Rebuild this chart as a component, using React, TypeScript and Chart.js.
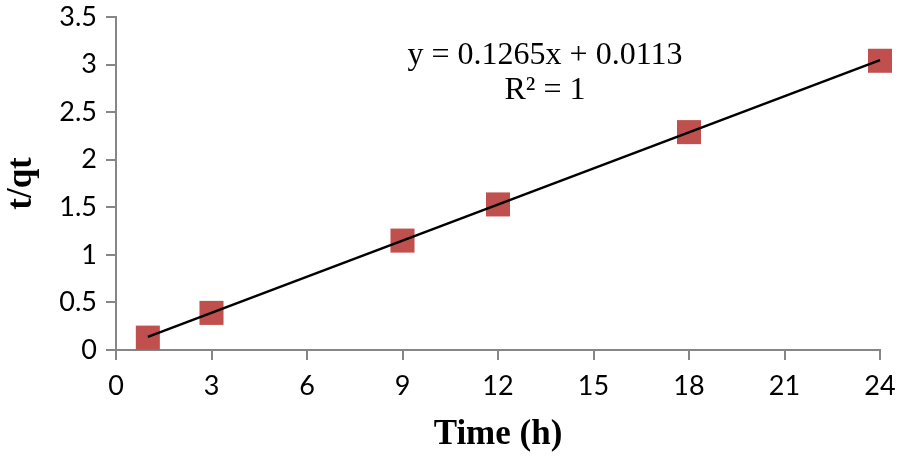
import React, { useEffect, useRef } from "react";
import { Chart, registerables } from "chart.js";

Chart.register(...registerables);

const timeH = [1, 3, 9, 12, 18, 24];
const tOverQt = [0.13, 0.39, 1.15, 1.53, 2.29, 3.04];
const trendX = [1, 24];
const trendY = [0.138, 3.047];
const equationLines = ["y = 0.1265x + 0.0113", "R² = 1"];

const AXIS_GRAY = "#868686";
const TICK_FONT = "Lato, 'Open Sans', sans-serif";
const SERIF = "'Liberation Serif', 'Times New Roman', serif";

const equationPlugin = {
  id: "equation",
  afterDatasetsDraw(chart: any) {
    const { ctx, chartArea } = chart;
    ctx.save();
    ctx.fillStyle = "#000";
    ctx.font = `32px ${SERIF}`;
    ctx.textAlign = "center";
    ctx.textBaseline = "middle";
    const cx = chartArea.left + (chartArea.right - chartArea.left) * 0.5615;
    ctx.fillText(equationLines[0], cx, chartArea.top + 39);
    ctx.fillText(equationLines[1], cx, chartArea.top + 74);
    ctx.restore();
  },
};

export default function App() {
  const ref = useRef<HTMLCanvasElement | null>(null);
  useEffect(() => {
    document.body.style.margin = "0";
    const canvas = ref.current!;
    const chart = new Chart(canvas, {
      type: "scatter",
      data: {
        datasets: [
          {
            type: "line",
            data: trendX.map((x, i) => ({ x, y: trendY[i] })),
            borderColor: "#000",
            borderWidth: 2.5,
            pointRadius: 0,
            fill: false,
            clip: false,
          },
          {
            data: timeH.map((x, i) => ({ x, y: tOverQt[i] })),
            backgroundColor: "#C0504D",
            borderColor: "#C0504D",
            borderWidth: 0,
            pointStyle: "rect",
            pointRadius: 17,
            clip: false,
          },
        ],
      },
      options: {
        responsive: false,
        animation: false,
        layout: { padding: { top: 16, right: 18, left: 0, bottom: 0 } },
        plugins: { legend: { display: false }, tooltip: { enabled: false } },
        scales: {
          x: {
            type: "linear",
            min: 0,
            max: 24,
            ticks: {
              stepSize: 3,
              color: "#000",
              font: { family: TICK_FONT, size: 27 },
              padding: 10,
              maxRotation: 0,
              callback: (v: any) => String(v),
            },
            grid: {
              drawOnChartArea: false,
              color: AXIS_GRAY,
              lineWidth: 2,
              tickLength: 10,
            },
            border: { color: AXIS_GRAY, width: 2 },
            title: {
              display: true,
              text: "Time (h)",
              color: "#000",
              font: { family: SERIF, size: 35, weight: "bold" },
              padding: { top: 0, bottom: 1 },
            },
            afterFit(scale: any) {
              scale.height = 107;
              scale.paddingRight = 0;
              scale.paddingLeft = 0;
            },
          },
          y: {
            min: 0,
            max: 3.5,
            ticks: {
              stepSize: 0.5,
              color: "#000",
              font: { family: TICK_FONT, size: 27 },
              padding: 9,
              callback: (v: any) => String(v),
            },
            grid: {
              drawOnChartArea: false,
              color: AXIS_GRAY,
              lineWidth: 2,
              tickLength: 10,
            },
            border: { color: AXIS_GRAY, width: 2 },
            title: {
              display: true,
              text: "t/qt",
              color: "#000",
              font: { family: SERIF, size: 35, weight: "bold" },
              padding: { top: 1, bottom: 0 },
            },
            afterFit(scale: any) {
              scale.width = 116;
              scale.paddingTop = 0;
              scale.paddingBottom = 0;
            },
          },
        },
      },
      plugins: [equationPlugin],
    });
    return () => chart.destroy();
  }, []);
  return <canvas ref={ref} width={898} height={457} style={{ display: "block" }} />;
}
